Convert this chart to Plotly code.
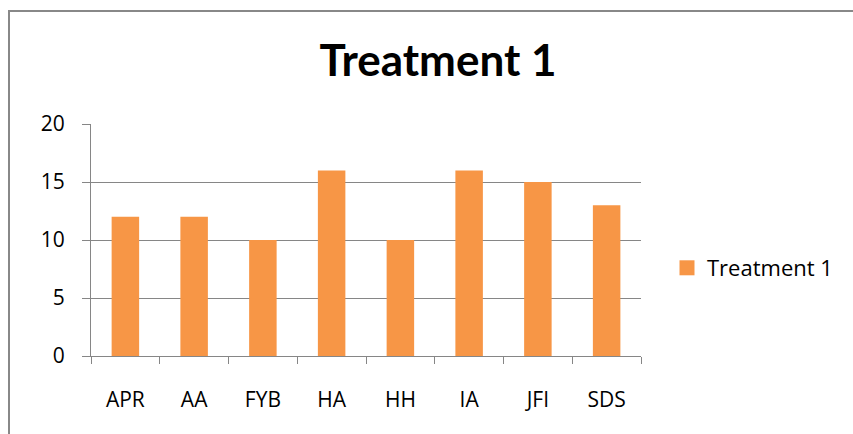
import plotly.graph_objects as go

# Data
categories = ["APR", "AA", "FYB", "HA", "HH", "IA", "JFI", "SDS"]
treatment_1 = [12, 12, 10, 16, 10, 16, 15, 13]
y_ticks = [0, 5, 10, 15, 20]

ORANGE = "#F79646"
GRID = "#868686"
FONT = "Open Sans"
TITLE_FONT = "Lato"

W, H = 853, 434
L, R, T, B = 91, 641, 124, 356  # plot area in pixels


def px_x(p):
    return (p - L) / (R - L)


def px_y(p):
    return (B - p) / (B - T)


fig = go.Figure()
fig.add_trace(go.Bar(
    x=categories, y=treatment_1, name="Treatment 1",
    marker=dict(color=ORANGE, line=dict(width=0)),
    showlegend=False,
))
# legend entry with a larger square key
fig.add_trace(go.Scatter(
    x=[None], y=[None], mode="markers", name="Treatment 1",
    marker=dict(symbol="square", size=15, color=ORANGE),
    showlegend=True, hoverinfo="skip",
))

fig.update_layout(
    width=W, height=H,
    margin=dict(l=L, r=W - R, t=T, b=H - B, pad=0),
    paper_bgcolor="white", plot_bgcolor="white",
    bargap=0.6,
    font=dict(family=FONT, color="black", size=21),
    title=dict(text="<b>Treatment 1</b>", x=438 / W, xanchor="center",
               y=1 - 61 / H, yanchor="middle",
               font=dict(family=TITLE_FONT, size=44, color="black")),
    showlegend=True,
    legend=dict(x=px_x(667), xanchor="left", y=px_y(268), yanchor="middle",
                font=dict(family=FONT, size=22, color="black"),
                bgcolor="rgba(0,0,0,0)", itemwidth=30, borderwidth=0,
                tracegroupgap=0),
    xaxis=dict(
        type="category", showgrid=False, showline=True, linecolor=GRID, linewidth=1,
        ticks="outside", tickson="boundaries", ticklen=7, tickcolor=GRID,
        ticklabelstandoff=25, zeroline=False,
    ),
    yaxis=dict(
        range=[0, 20], tickvals=y_ticks, showgrid=True, gridcolor=GRID, gridwidth=1,
        showline=True, linecolor=GRID, linewidth=1,
        ticks="outside", ticklen=8, tickcolor=GRID, zeroline=False,
        ticklabelstandoff=13,
    ),
    shapes=[dict(type="rect", xref="paper", yref="paper",
                 x0=px_x(9), x1=px_x(W + 20), y0=px_y(H + 20), y1=px_y(11),
                 line=dict(color="#888888", width=2), fillcolor="rgba(0,0,0,0)",
                 layer="below")],
)

fig.write_html("out.html")
